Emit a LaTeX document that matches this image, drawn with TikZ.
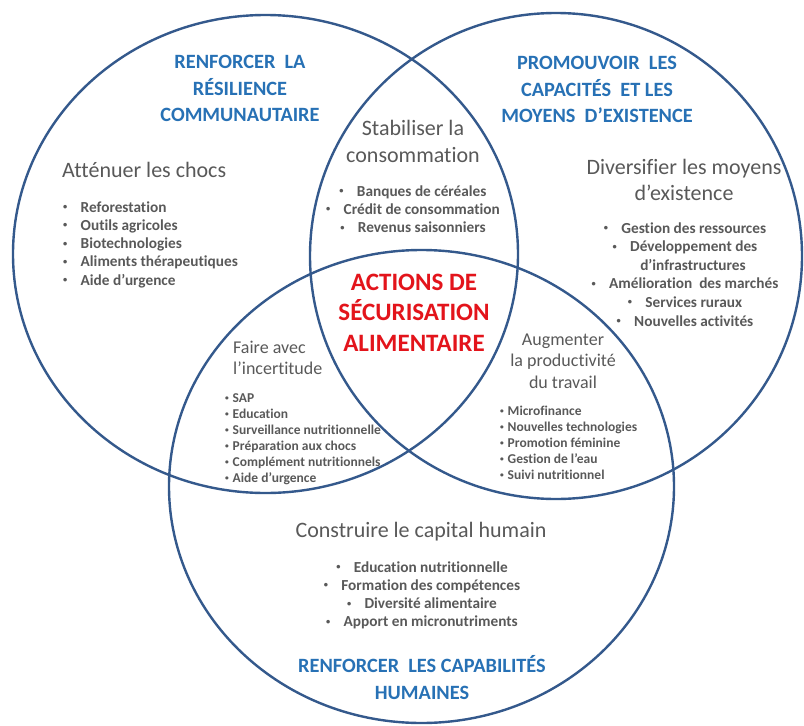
\documentclass[tikz,border=0pt]{standalone}
\usepackage{fontspec}
\setmainfont{Carlito}[Ligatures=NoCommon]
\usepackage{xcolor}
\definecolor{trait}{HTML}{34598C}
\definecolor{bleu}{HTML}{2771B5}
\definecolor{gris}{HTML}{595959}
\definecolor{rouge}{HTML}{E3141B}
\newcommand{\point}{\raisebox{0.16em}{\scalebox{0.55}{\textbullet}}}
\tikzset{
    cercle/.style={draw=trait,line width=2.4pt},
    titre/.style={font=\fontsize{20.3}{24}\selectfont\bfseries,text=bleu,anchor=base,inner sep=0},
    theme/.style={font=\fontsize{22}{26}\selectfont,text=gris,anchor=base,inner sep=0},
    soustheme/.style={font=\fontsize{18}{22}\selectfont,text=gris,anchor=base,inner sep=0},
    centre/.style={font=\fontsize{25}{30}\selectfont\bfseries,text=rouge,anchor=base,inner sep=0},
    puce/.style={font=\fontsize{15.3}{18}\selectfont\bfseries,text=gris,anchor=base,inner sep=0,
        execute at begin node={\makebox[17.5pt][l]{\point}}},
    petitepuce/.style={font=\fontsize{13.5}{16}\selectfont\bfseries,text=gris,anchor=base west,inner sep=0,
        execute at begin node={\makebox[7.5pt][l]{\point}}},
    suite/.style={font=\fontsize{15.3}{18}\selectfont\bfseries,text=gris,anchor=base,inner sep=0},
}
\newcommand{\lignes}[6] {
    \foreach \txt [count=\i] in {#6}
        \node[#5] (#1-\i) at ({#2},{#3+(\i-1)*#4}) {\txt};
}

\begin{document}
\begin{tikzpicture}[x=1pt,y=-1pt]
    \useasboundingbox[fill=white] (0,0) rectangle (804,726);
    \draw[cercle] (265.5,254) ellipse [x radius=252.5, y radius=239];
    \draw[cercle] (556,256) ellipse [x radius=246, y radius=243];
    \draw[cercle] (421.5,486.5) ellipse [x radius=252.5, y radius=236.5];

    \lignes{resilience}{240}{68.5}{26.5}{titre}{RENFORCER\ \ LA, RÉSILIENCE, COMMUNAUTAIRE}
    \lignes{capacites}{597}{69.5}{26.5}{titre}{PROMOUVOIR\ \ LES, CAPACITÉS\ \ ET LES, MOYENS\ \ D’EXISTENCE}
    \lignes{capabilites}{422}{672.5}{27}{titre}{RENFORCER\ \ LES CAPABILITÉS, HUMAINES}

    \lignes{actions}{414}{290}{30.5}{centre}{ACTIONS DE, SÉCURISATION, ALIMENTAIRE}

    \node[theme,anchor=base west] (chocs) at (62,177) {Atténuer les chocs};
    \lignes{chocs}{63}{212}{18.3}{puce,anchor=base west}{Reforestation, Outils agricoles, Biotechnologies, Aliments thérapeutiques, Aide d’urgence}

    \lignes{stabiliser}{413}{135}{27}{theme}{Stabiliser la, consommation}
    \lignes{consommation}{413}{196}{18.3}{puce}{Banques de céréales, Crédit de consommation, Revenus saisonniers}

    \lignes{diversifier}{684}{174}{26}{theme}{Diversifier les moyens, d’existence}
    \lignes{moyens}{685}{233}{18.6}{puce}{Gestion des ressources, Développement des}
    \node[suite] (infrastructures) at (693,270.2) {d’infrastructures};
    \lignes{marches}{685}{288.8}{18.6}{puce}{Amélioration\ \ des marchés, Services ruraux, Nouvelles activités}

    \lignes{incertitude}{233}{353}{21}{soustheme,anchor=base west}{Faire avec, l’incertitude}
    \lignes{prevention}{225}{402.5}{16}{petitepuce}{SAP, Education, Surveillance nutritionnelle, Préparation aux chocs, Complément nutritionnels, Aide d’urgence}

    \lignes{productivite}{563}{345}{21.5}{soustheme}{Augmenter, la productivité, du travail}
    \lignes{travail}{500}{415.5}{16}{petitepuce}{Microfinance, Nouvelles technologies, Promotion féminine, Gestion de l’eau, Suivi nutritionnel}

    \node[theme] (humain) at (421,537) {Construire le capital humain};
    \lignes{humain}{422}{572}{18.3}{puce}{Education nutritionnelle, Formation des compétences, Diversité alimentaire, Apport en micronutriments}
\end{tikzpicture}
\end{document}
